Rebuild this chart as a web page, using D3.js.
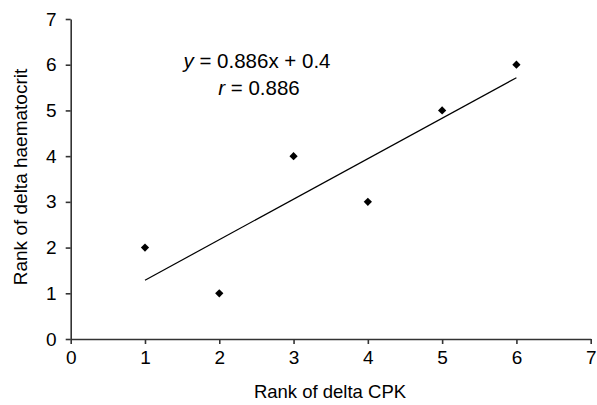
<!DOCTYPE html>
<html><head><meta charset="utf-8">
<script src="https://cdn.jsdelivr.net/npm/d3@7"></script>
<style>body{margin:0;background:#fff}svg{display:block}text{font-family:"Liberation Sans",Arial,sans-serif;fill:#000}</style>
</head><body><svg id="c" width="597" height="405"></svg>
<script>
const xRank = [1, 2, 3, 4, 5, 6];
const yRank = [2, 1, 4, 3, 5, 6];
const slope = 0.886, intercept = 0.4;
const xTicks = [0,1,2,3,4,5,6,7];
const yTicks = [0,1,2,3,4,5,6,7];
const eqLines = ["y = 0.886x + 0.4", "r = 0.886"];

const svg = d3.select("#c");
const x = d3.scaleLinear().domain([0,7]).range([70.7, 590.7]);
const y = d3.scaleLinear().domain([0,7]).range([339, 19]);

const ax = svg.append("g").attr("transform","translate(0,339)")
  .call(d3.axisBottom(x).tickValues(xTicks).tickFormat(d3.format("d")).tickSize(5).tickPadding(7).tickSizeOuter(0));
const ay = svg.append("g").attr("transform","translate(70.7,0)")
  .call(d3.axisLeft(y).tickValues(yTicks).tickFormat(d3.format("d")).tickSize(5).tickPadding(8).tickSizeOuter(0));
[ax, ay].forEach(g => {
  g.selectAll("path,line").attr("stroke","#333").attr("stroke-width",1.6);
  g.selectAll("text").attr("font-size",19).attr("font-family","Liberation Sans, Arial, sans-serif").attr("fill","#000");
});
ay.selectAll("text").attr("dx", -1);

svg.append("line")
  .attr("x1", x(1)).attr("y1", y(slope*1+intercept))
  .attr("x2", x(6)).attr("y2", y(slope*6+intercept))
  .attr("stroke","#000").attr("stroke-width",1.2);

svg.selectAll("path.pt").data(xRank).enter().append("path")
  .attr("class","pt")
  .attr("d", d3.symbol().type(d3.symbolSquare).size(34))
  .attr("transform",(d,i)=>`translate(${x(d)},${y(yRank[i])}) rotate(45)`)
  .attr("fill","#000");

const eq = svg.append("text").attr("x",257).attr("y",68).attr("text-anchor","middle").attr("font-size",20.5);
eq.append("tspan").attr("font-style","italic").text("y");
eq.append("tspan").text(eqLines[0].slice(1));
const rt = svg.append("text").attr("x",259).attr("y",95).attr("text-anchor","middle").attr("font-size",20.5);
rt.append("tspan").attr("font-style","italic").text("r");
rt.append("tspan").text(eqLines[1].slice(1));

svg.append("text").attr("x",330).attr("y",398).attr("text-anchor","middle").attr("font-size",18.5).text("Rank of delta CPK");
svg.append("text").attr("transform","translate(27,177) rotate(-90)").attr("text-anchor","middle").attr("font-size",19).text("Rank of delta haematocrit");
</script></body></html>
